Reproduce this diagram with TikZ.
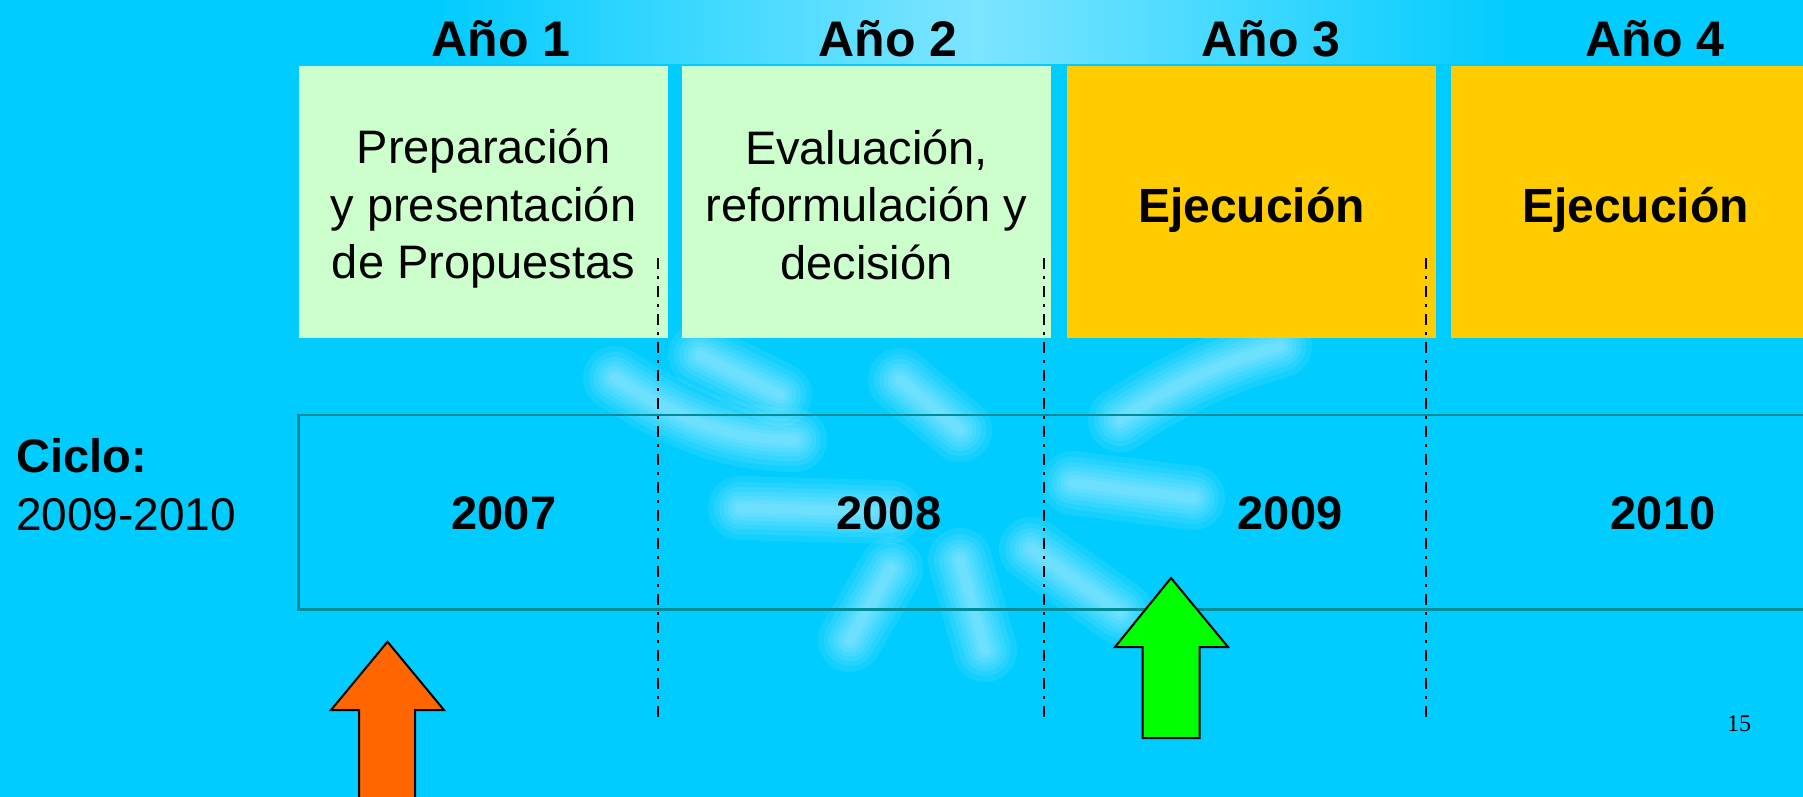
\documentclass[tikz,border=0pt]{standalone}
\usepackage{fontspec}
\setmainfont{Liberation Sans}
\newfontfamily\pagenumfont{Liberation Serif}
\definecolor{bgcyan}{RGB}{0,204,255}
\definecolor{paleg}{RGB}{204,255,204}
\definecolor{gold}{RGB}{255,204,0}
\definecolor{orarrow}{RGB}{255,102,0}
\definecolor{grarrow}{RGB}{0,255,0}
\definecolor{tealline}{RGB}{0,140,150}
\tikzset{
  phasebox/.style={draw=none, inner sep=0pt, minimum width=369pt, minimum height=271.5pt},
  greenphase/.style={phasebox, fill=paleg},
  goldphase/.style={phasebox, fill=gold},
  phasetext/.style={align=center, inner sep=0pt, font=\fontsize{47}{57.5}\selectfont},
  phasebold/.style={inner sep=0pt, font=\fontsize{48}{57.5}\selectfont\bfseries},
  yearhead/.style={anchor=base, font=\fontsize{50}{60}\selectfont\bfseries},
  yearlbl/.style={anchor=base, font=\fontsize{47}{57}\selectfont\bfseries},
  divider/.style={line width=2.8pt, dash pattern=on 11pt off 7pt on 2.5pt off 7.5pt},
  blockarrow/.style={draw=black, line width=2pt, line join=miter},
  glow/.style={white, line cap=round, line join=round, opacity=0.08}
}
\begin{document}
\begin{tikzpicture}[x=1pt,y=-1pt]
\useasboundingbox (0,0) rectangle (1803,797);
\clip (0,0) rectangle (1803,797);
\fill[bgcyan] (0,0) rectangle (1803,797);
% faint watermark
\shade[left color=bgcyan, right color=bgcyan, middle color=white!70!bgcyan, opacity=0.7] (430,0) rectangle (1520,64);
\foreach \w in {64,52,42,33,25,17,10}{
  \draw[glow, line width=\w pt] (615,378) .. controls (680,420) and (730,440) .. (795,440);
  \draw[glow, line width=\w pt] (700,355) -- (780,395);
  \draw[glow, line width=\w pt] (740,508) -- (890,512);
  \draw[glow, line width=\w pt] (891,569) -- (850,640);
  \draw[glow, line width=\w pt] (960,560) -- (985,650);
  \draw[glow, line width=\w pt] (1031,549) -- (1120,612);
  \draw[glow, line width=\w pt] (1073,483) -- (1193,498);
  \draw[glow, line width=\w pt] (1120,420) .. controls (1180,380) and (1230,360) .. (1280,346);
  \draw[glow, line width=\w pt] (900,380) -- (960,430);
}
% phase boxes
\node[greenphase] (p1) at (483.5,201.8) {};
\node[greenphase] (p2) at (866.5,201.8) {};
\node[goldphase] (p3) at (1251.5,201.8) {};
\node[goldphase] (p4) at (1635.5,201.8) {};
\node[phasetext] (t1) at ([yshift=-7pt]p1.center) {Preparación\\y presentación\\de Propuestas};
\node[phasetext] (t2) at ([yshift=-3pt]p2.center) {Evaluación,\\reformulación y\\decisión};
\node[phasebold] (t3) at ([yshift=-8pt]p3.center) {Ejecución};
\node[phasebold] (t4) at ([yshift=-8pt]p4.center) {Ejecución};
% year headers
\node[yearhead] (a1) at (501,56.7) {Año 1};
\node[yearhead] (a2) at (888,56.7) {Año 2};
\node[yearhead] (a3) at (1271,56.7) {Año 3};
\node[yearhead] (a4) at (1655,56.7) {Año 4};
% timeline band
\node[draw=tealline, line width=2.5pt, minimum width=1540pt, minimum height=194.5pt, inner sep=0pt, anchor=north west] (band) at (297,413.5) {};
\node[yearlbl] (y1) at (504,529) {2007};
\node[yearlbl] (y2) at (889,529) {2008};
\node[yearlbl] (y3) at (1290,529) {2009};
\node[yearlbl] (y4) at (1663,529) {2010};
% cycle label
\node[anchor=base west, inner sep=0pt, font=\fontsize{47}{57}\selectfont\bfseries] (ciclo) at (16,472) {Ciclo:};
\node[anchor=base west, inner sep=0pt, font=\fontsize{46}{57}\selectfont] (ciclo2) at (16,530) {2009-2010};
% dividers
\foreach \x/\n in {658/d1,1044/d2,1426/d3}{
  \coordinate (\n top) at (\x,258);
  \coordinate (\n bot) at (\x,721);
  \draw[divider] (\n top) -- (\n bot);
}
% block arrows
\draw[blockarrow, fill=orarrow] (359,815) -- (359,710) -- (331,710) -- (387.5,641.7) -- (444,710) -- (415,710) -- (415,815) -- cycle;
\draw[blockarrow, fill=grarrow] (1142.5,738) -- (1142.5,647) -- (1115,647) -- (1171,578) -- (1228,647) -- (1199.5,647) -- (1199.5,738) -- cycle;
% page number
\node[anchor=base, font=\fontsize{24}{28}\selectfont\pagenumfont] (pg) at (1739,731.5) {15};
\end{tikzpicture}
\end{document}
